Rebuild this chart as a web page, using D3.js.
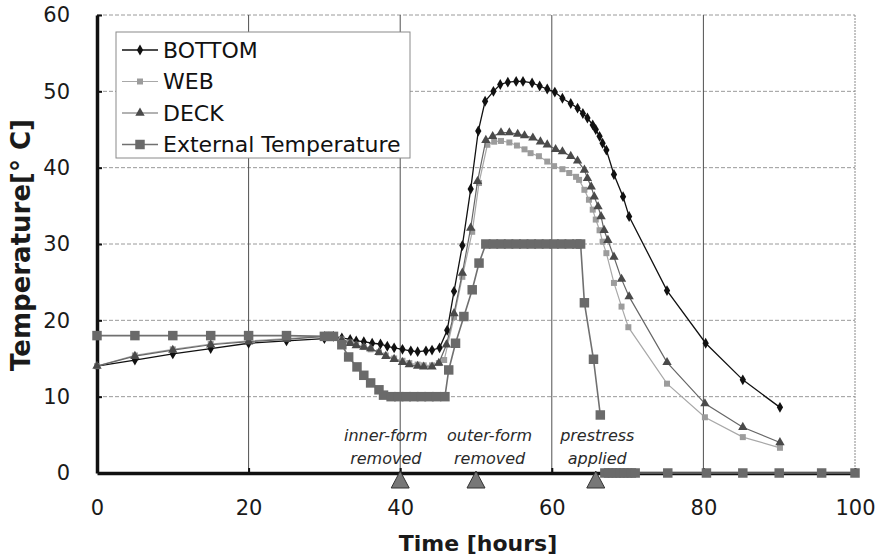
<!DOCTYPE html>
<html>
<head>
<meta charset="utf-8">
<script src="https://cdn.jsdelivr.net/npm/d3@7"></script>
<style>
  body { margin: 0; background: #fff; }
  svg { display: block; font-family: "DejaVu Sans", Verdana, sans-serif; }
</style>
</head>
<body>
<div id="chart"></div>
<script>

// Hours and temperatures for each series.
const bottomTime = [0, 5, 10, 15, 20, 25, 30, 31.2, 32.3, 33.4, 34.2, 35.2, 36.3, 37.4, 38.3, 39.2, 40.3, 41.4, 42.3, 43.4, 44.2, 45.2,
    46.2, 47.1, 48.2, 49.3, 50.3, 51.2, 52.3, 53.2, 54.2, 55.3, 56.2, 57.4, 58.4, 59.4, 60.4, 61.4, 62.5, 63.4, 64.1, 64.7,
    65.4, 65.8, 66.3, 66.7, 67.2, 68.2, 69.4, 70.2, 75.2, 80.3, 85.2, 90.1];
const bottomTemp = [14.0, 14.8, 15.6, 16.3, 17.0, 17.3, 17.6, 17.9, 17.7, 17.5, 17.3, 17.2, 17.0, 16.9, 16.6, 16.4, 16.2, 16.0, 15.9, 16.0, 16.1, 16.4,
    18.7, 23.8, 29.8, 37.2, 44.8, 48.7, 50.0, 50.9, 51.2, 51.3, 51.3, 51.1, 50.7, 50.3, 49.9, 49.1, 48.4, 47.8, 47.1, 46.5,
    45.6, 45.0, 44.1, 43.2, 42.3, 39.1, 36.2, 33.6, 23.9, 17.0, 12.2, 8.6];

const webTime = [0, 5, 10, 15, 20, 25, 30, 31.2, 32.3, 33.4, 34.2, 35.2, 36.1, 37.2, 38.1, 39.2, 40.3, 41.2, 42.3, 43.1, 44.2, 45.1,
    45.8, 47.1, 48.2, 49.5, 50.4, 51.5, 52.4, 53.3, 54.4, 55.4, 56.4, 57.2, 58.3, 59.4, 60.3, 61.4, 62.3, 63.2, 63.6, 64.3,
    64.9, 65.4, 65.8, 66.3, 66.7, 67.2, 68.2, 69.2, 70.1, 75.2, 80.2, 85.2, 90.1];
const webTemp = [14.0, 15.4, 16.2, 16.9, 17.3, 17.6, 17.9, 17.8, 17.5, 17.1, 16.8, 16.5, 16.2, 15.8, 15.4, 15.0, 14.7, 14.4, 14.2, 14.1, 14.1, 14.4,
    14.8, 20.4, 25.7, 31.6, 38.0, 43.0, 43.4, 43.5, 43.3, 42.9, 42.4, 41.9, 41.5, 40.8, 40.2, 39.8, 39.3, 38.8, 38.4, 37.1,
    35.8, 34.5, 33.2, 31.8, 30.3, 28.8, 24.9, 21.8, 19.1, 11.7, 7.3, 4.7, 3.3];

const deckTime = [0, 5, 10, 15, 20, 25, 30, 31.2, 32.3, 33.4, 34.2, 35.2, 36.1, 37.2, 38.1, 39.2, 40.3, 41.2, 42.3, 43.1, 44.2, 45.1,
    46.1, 47.1, 48.2, 49.3, 50.2, 51.3, 52.2, 53.3, 54.4, 55.5, 56.4, 57.5, 58.5, 59.4, 60.5, 61.4, 62.5, 63.4, 64.3, 64.7,
    65.2, 65.6, 66.1, 66.5, 66.9, 67.4, 68.2, 69.2, 70.2, 75.2, 80.2, 85.2, 90.1];
const deckTemp = [14.0, 15.3, 16.1, 16.8, 17.2, 17.5, 17.9, 17.8, 17.4, 17.0, 16.7, 16.5, 16.3, 15.8, 15.3, 14.9, 14.5, 14.2, 14.0, 13.9, 13.9, 14.4,
    16.8, 20.9, 26.2, 32.1, 38.2, 43.6, 44.1, 44.6, 44.6, 44.4, 44.2, 43.9, 43.4, 43.0, 42.4, 42.1, 41.5, 40.9, 39.7, 38.6,
    37.5, 36.2, 34.9, 33.6, 31.8, 30.5, 28.3, 25.4, 23.1, 14.5, 9.1, 6.0, 4.0];

// null = the break between 7.6 degrees and the zero line
const extTime = [0, 5, 10, 15, 20, 25, 30, 30.6, 31.2, 32.3, 33.2, 34.3, 35.2, 36.1, 37.2, 37.8,
    38.8, 39.8, 40.8, 41.8, 42.8, 43.8, 44.8, 45.9, 46.4, 47.3, 48.4, 49.5, 50.4, 51.3,
    52.3, 53.3, 54.3, 55.3, 56.3, 57.3, 58.3, 59.3, 60.3, 61.3, 62.3, 63.3, 63.8, 64.3, 65.5, 66.4,
    66.6, 67, 67.5, 68, 68.5, 69, 69.5, 70, 70.5, 71, 75.3, 80.4, 85.2, 90, 95.6, 100];
const extTemp = [18, 18, 18, 18, 18, 18, 17.9, 17.9, 17.9, 16.8, 15.2, 13.9, 12.8, 11.8, 10.9, 10.2,
    10, 10, 10, 10, 10, 10, 10, 10, 13.5, 17.0, 20.5, 24.0, 27.5, 30,
    30, 30, 30, 30, 30, 30, 30, 30, 30, 30, 30, 30, 30, 22.3, 14.9, 7.6,
    null, 0, 0, 0, 0, 0, 0, 0, 0, 0, 0, 0, 0, 0, 0, 0];

const seriesNames = ["BOTTOM", "WEB", "DECK", "External Temperature"];

// Events marked under the time axis.
const eventTime  = [40, 50, 65.8];
const eventLabel = [["inner-form", "removed"], ["outer-form", "removed"], ["prestress", "applied"]];
const eventLabelTime = [38.1, 51.8, 66.0];

const xTicks = [0, 20, 40, 60, 80, 100];
const yTicks = [0, 10, 20, 30, 40, 50, 60];


let margin = {top: 15, right: 20, bottom: 87, left: 97};
let width  = 875, height = 560;
let w = width - margin.left - margin.right;
let h = height - margin.top - margin.bottom;

let svg = d3.select("#chart").append("svg")
    .attr("width", width)
    .attr("height", height);

let g = svg.append("g")
    .attr("transform", "translate(" + margin.left + "," + margin.top + ")");

let x = d3.scaleLinear().domain([0, 100]).range([0, w]);
let y = d3.scaleLinear().domain([0, 60]).range([h, 0]);

// Grid: horizontal grey dashed, vertical darker solid
g.append("g")
    .selectAll("line")
    .data(yTicks.slice(1))
    .enter().append("line")
        .attr("x1", 0).attr("x2", w)
        .attr("y1", d => y(d)).attr("y2", d => y(d))
        .attr("stroke", "#9a9a9a")
        .attr("stroke-width", 1)
        .attr("stroke-dasharray", "4,2");

g.append("g")
    .selectAll("line")
    .data(xTicks.slice(1))
    .enter().append("line")
        .attr("x1", d => x(d)).attr("x2", d => x(d))
        .attr("y1", 0).attr("y2", h)
        .attr("stroke", d => d === 100 ? "#8a8a8a" : "#505050")
        .attr("stroke-width", 1)
        .attr("stroke-dasharray", d => d === 100 ? "2,1" : null);

// Axes
let yAxis = g.append("g")
    .call(d3.axisLeft(y).tickValues(yTicks).tickSizeInner(-5).tickSizeOuter(0).tickPadding(27));

let xAxis = g.append("g")
    .attr("transform", "translate(0," + h + ")")
    .call(d3.axisBottom(x).tickValues(xTicks).tickSizeInner(-5).tickSizeOuter(0).tickPadding(27));

[xAxis, yAxis].forEach(a => {
    a.select(".domain").attr("stroke", "#111").attr("stroke-width", 3.5);
    a.selectAll(".tick line").attr("stroke", "#111").attr("stroke-width", 2);
    a.selectAll(".tick text")
        .attr("font-size", 21)
        .attr("font-family", "DejaVu Sans, Verdana, sans-serif")
        .attr("fill", "#1a1a1a");
});
xAxis.selectAll(".tick").filter(d => d === 0).select("line").remove();
yAxis.selectAll(".tick").filter(d => d === 0).select("line").remove();

// Series
let series = [
    {name: seriesNames[0], time: bottomTime, temp: bottomTemp, line: "#111", lw: 1.3, fill: "#111", symbol: d3.symbolDiamond, size: 34},
    {name: seriesNames[1], time: webTime,    temp: webTemp,    line: "#a8a8a8", lw: 1.2, fill: "#9c9c9c", symbol: d3.symbolSquare, size: 36},
    {name: seriesNames[2], time: deckTime,   temp: deckTemp,   line: "#666", lw: 1.2, fill: "#4a4a4a", symbol: d3.symbolTriangle, size: 38},
    {name: seriesNames[3], time: extTime,    temp: extTemp,    line: "#707070", lw: 1.6, fill: "#6a6a6a", symbol: d3.symbolSquare, size: 90}
];

let line = d3.line()
    .defined(d => d[1] !== null)
    .x(d => x(d[0]))
    .y(d => y(d[1]));

series.forEach(s => {
    let pts = s.time.map((t, i) => [t, s.temp[i]]);
    let sg = g.append("g");

    sg.append("path")
        .datum(pts)
        .attr("fill", "none")
        .attr("stroke", s.line)
        .attr("stroke-width", s.lw)
        .attr("d", line);

    sg.selectAll("path.pt")
        .data(pts.filter(d => d[1] !== null))
        .enter().append("path")
            .attr("class", "pt")
            .attr("transform", d => "translate(" + x(d[0]) + "," + y(d[1]) + ")")
            .attr("d", d3.symbol().type(s.symbol).size(s.size))
            .attr("fill", s.fill);
});

// Event triangles sitting on the time axis
g.append("g")
    .selectAll("path")
    .data(eventTime)
    .enter().append("path")
        .attr("d", d => {
            let cx = x(d), top = h - 2;
            return "M" + cx + "," + top + "L" + (cx + 9) + "," + (top + 17) + "L" + (cx - 9) + "," + (top + 17) + "Z";
        })
        .attr("fill", "#777")
        .attr("stroke", "#333")
        .attr("stroke-width", 1);

let notes = g.append("g")
    .attr("font-style", "italic")
    .attr("font-size", 16)
    .attr("fill", "#2a2a2a")
    .attr("text-anchor", "middle");

eventLabel.forEach((lines, i) => {
    lines.forEach((txt, j) => {
        notes.append("text")
            .attr("x", x(eventLabelTime[i]))
            .attr("y", h - 32 + j * 22.5)
            .text(txt);
    });
});

// Axis titles
svg.append("text")
    .attr("transform", "translate(30,245) rotate(-90)")
    .attr("text-anchor", "middle")
    .attr("font-weight", "bold")
    .attr("font-size", 26)
    .attr("fill", "#1a1a1a")
    .text("Temperature[° C]");

svg.append("text")
    .attr("x", 478)
    .attr("y", 551)
    .attr("text-anchor", "middle")
    .attr("font-weight", "bold")
    .attr("font-size", 22)
    .attr("fill", "#1a1a1a")
    .text("Time [hours]");

// Legend
let legend = svg.append("g").attr("transform", "translate(116,32)");

legend.append("rect")
    .attr("width", 294)
    .attr("height", 126)
    .attr("fill", "#fff")
    .attr("stroke", "#8a8a8a")
    .attr("stroke-width", 1);

let item = legend.selectAll("g.item")
    .data(series)
    .enter().append("g")
        .attr("class", "item")
        .attr("transform", (d, i) => "translate(0," + (18 + i * 31.5) + ")");

item.append("line")
    .attr("x1", 6).attr("x2", 42)
    .attr("stroke", d => d.line)
    .attr("stroke-width", d => d.lw);

item.append("path")
    .attr("transform", "translate(24,0)")
    .attr("d", d => d3.symbol().type(d.symbol).size(d.size)())
    .attr("fill", d => d.fill);

item.append("text")
    .attr("x", 47)
    .attr("dy", "0.36em")
    .attr("font-size", 22)
    .attr("fill", "#111")
    .text(d => d.name);

</script>
</body>
</html>
